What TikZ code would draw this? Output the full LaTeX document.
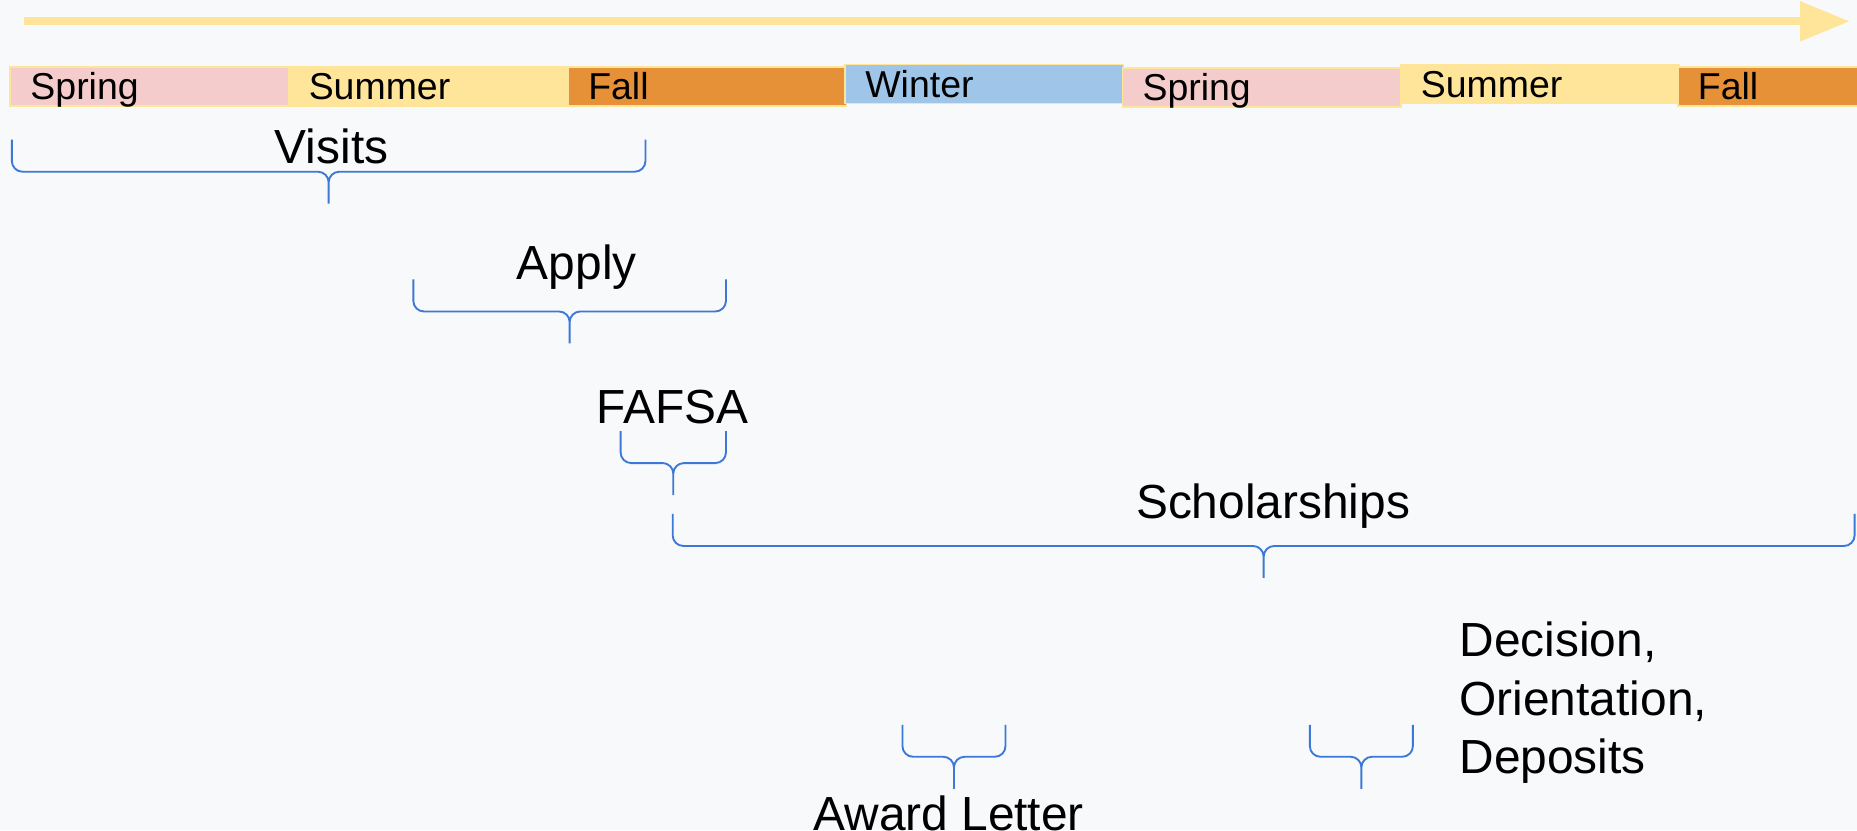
\documentclass[tikz,border=0pt]{standalone}
\usepackage{fontspec}
\setmainfont{Liberation Sans}
\usetikzlibrary{arrows.meta,calc}
\definecolor{tlbg}{HTML}{F8F9FB}
\definecolor{tlspring}{HTML}{F4CCCC}
\definecolor{tlsummer}{HTML}{FFE599}
\definecolor{tlfall}{HTML}{E69138}
\definecolor{tlwinter}{HTML}{9FC5E8}
\definecolor{tlbrace}{HTML}{3C78D8}

\begin{document}
\begin{tikzpicture}[x=0.1mm, y=-0.1mm, every node/.style={font=\fontsize{11.5}{14}\selectfont},
    season/.style={rectangle, draw=tlsummer, line width=0.4pt, minimum height=3.3mm, inner xsep=1.7mm, inner ysep=0pt, text width=20.1mm, text height=2.75mm, text depth=0.55mm, align=left, anchor=west, font=\fontsize{9}{10}\selectfont},
    timebrace/.style={draw=tlbrace, line width=0.45pt, rounded corners=0.9mm,
        to path={-- ++(0,27) -- ($(\tikztostart)!0.5!(\tikztotarget)+(0,27)$) -- ++(0,27)
                 (\tikztotarget) -- ++(0,27) -- ($(\tikztostart)!0.5!(\tikztotarget)+(0,27)$) -- ++(0,27)}}]
                        \fill[tlbg] (0,0) rectangle (1568,701);
                        \clip (0,0) rectangle (1568,701);

                        \coordinate (tstart) at (20,18);
                        \coordinate (tend) at (1562,18);
                        \draw[tlsummer, line width=0.7mm, -{Triangle[length=4.2mm, width=3.2mm]}] (tstart) -- (tend);

                        \node[season, fill=tlspring] (spring1) at (8,73) {Spring};
                        \node[season, fill=tlsummer] (summer1) at (243,73) {Summer};
                        \node[season, fill=tlfall] (fall1) at (479,73) {Fall};
                        \node[season, fill=tlwinter] (winter1) at (713,71) {Winter};
                        \node[season, fill=tlspring] (spring2) at (947,74) {Spring};
                        \node[season, fill=tlsummer] (summer2) at (1182,71) {Summer};
                        \node[season, fill=tlfall] (fall2) at (1416,73) {Fall};

                        \coordinate (visitsL) at (10,118);
                        \coordinate (visitsR) at (545,118);
                        \coordinate (applyL) at (349,236);
                        \coordinate (applyR) at (613,236);
                        \coordinate (fafsaL) at (524,364);
                        \coordinate (fafsaR) at (613,364);
                        \coordinate (scholL) at (568,434);
                        \coordinate (scholR) at (1566,434);
                        \coordinate (awardL) at (762,612);
                        \coordinate (awardR) at (849,612);
                        \coordinate (decideL) at (1106,612);
                        \coordinate (decideR) at (1193,612);

                        \draw[timebrace] (visitsL) to (visitsR);
                        \draw[timebrace] (applyL) to (applyR);
                        \draw[timebrace] (fafsaL) to (fafsaR);
                        \draw[timebrace] (scholL) to (scholR);
                        \draw[timebrace] (awardL) to (awardR);
                        \draw[timebrace] (decideL) to (decideR);

                        \node[anchor=base] (visits) at (280,138) {Visits};
                        \node[anchor=base] (apply) at (487,236) {Apply};
                        \node[anchor=base] (fafsa) at (568,358) {FAFSA};
                        \node[anchor=base] (schol) at (1075,438) {Scholarships};
                        \node[anchor=base] (award) at (801,701) {Award Letter};
                        \node[anchor=base west, align=left] (decide) at (1220,653) {Decision,\\Orientation,\\Deposits};
                    \end{tikzpicture}
\end{document}
